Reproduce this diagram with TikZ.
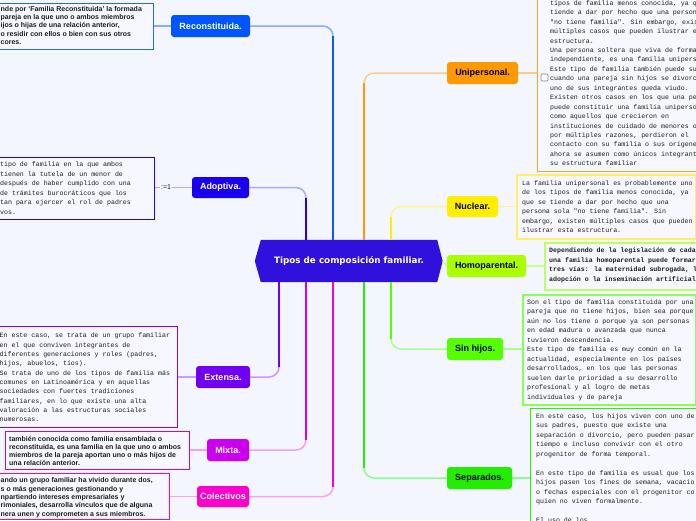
\documentclass[tikz,border=0pt]{standalone}
\usepackage{fontspec}
\setmainfont{Liberation Sans}
\newfontfamily\monof{Liberation Mono}
\newfontfamily\rootf{DejaVu Sans}
\usetikzlibrary{calc}
\pgfdeclarelayer{background}
\pgfsetlayers{background,main}
\definecolor{bg}{HTML}{F3F6FE}
\definecolor{notefill}{HTML}{F7F8FF}
\definecolor{textc}{HTML}{1E1E1E}
\definecolor{rootc}{HTML}{3010DD}
\definecolor{recS}{HTML}{1155FF}\definecolor{recL}{HTML}{88AAFF}\definecolor{recN}{HTML}{0055FF}\definecolor{recB}{HTML}{2266FF}
\definecolor{adoS}{HTML}{2200EE}\definecolor{adoL}{HTML}{AAAAFF}\definecolor{adoN}{HTML}{1A00F0}\definecolor{adoB}{HTML}{2200EE}
\definecolor{extS}{HTML}{7700EE}\definecolor{extL}{HTML}{CC99FF}\definecolor{extN}{HTML}{7000F0}\definecolor{extB}{HTML}{8800EE}
\definecolor{mixS}{HTML}{CC00EE}\definecolor{mixL}{HTML}{EEA0FF}\definecolor{mixN}{HTML}{CC00EE}\definecolor{mixB}{HTML}{CC00DD}
\definecolor{colS}{HTML}{FF00CC}\definecolor{colL}{HTML}{FFA0EE}\definecolor{colN}{HTML}{FF00CC}\definecolor{colB}{HTML}{FF00CC}
\definecolor{uniS}{HTML}{FF9900}\definecolor{uniL}{HTML}{FFCC88}\definecolor{uniN}{HTML}{FF9900}\definecolor{uniB}{HTML}{FFA020}
\definecolor{nucS}{HTML}{FFEE00}\definecolor{nucL}{HTML}{FFF48A}\definecolor{nucN}{HTML}{FFEE00}\definecolor{nucB}{HTML}{FFEE66}
\definecolor{homS}{HTML}{AAFF00}\definecolor{homL}{HTML}{CCFF88}\definecolor{homN}{HTML}{AAFF00}\definecolor{homB}{HTML}{BBFF66}
\definecolor{sinS}{HTML}{55FF00}\definecolor{sinL}{HTML}{AAFF88}\definecolor{sinN}{HTML}{55FF00}\definecolor{sinB}{HTML}{88FF55}
\definecolor{sepS}{HTML}{22EE00}\definecolor{sepL}{HTML}{88FF88}\definecolor{sepN}{HTML}{22EE00}\definecolor{sepB}{HTML}{33EE00}
\tikzset{
  branch/.style={rounded corners=3pt, inner sep=0pt, font=\fontsize{9}{10}\selectfont\bfseries},
  notebox/.style={draw, line width=1.1pt, fill=notefill, inner sep=0pt, anchor=north west},
  monotext/.style={font=\monof\fontsize{6.6}{9.5}\selectfont, align=left, inner sep=0pt, anchor=north west, text=textc},
  sanstext/.style={font=\fontsize{7}{8.3}\selectfont\bfseries, align=left, inner sep=0pt, anchor=north west, text=textc},
  lightline/.style={line width=1.5pt, rounded corners=10pt},
  satline/.style={line width=2.2pt, shorten >=10pt},
  noteline/.style={line width=1.1pt}
}
\begin{document}
\begin{tikzpicture}[x=1pt,y=-1pt]
\useasboundingbox (0,0) rectangle (696,520);
\begin{pgfonlayer}{background}
\fill[bg] (0,0) rectangle (696,520);
\end{pgfonlayer}

% root
\node[font=\rootf\fontsize{8.8}{10}\selectfont\bfseries, text=white, minimum width=176pt, minimum height=42pt, inner sep=0pt] (root) at (349,261) {Tipos de composición familiar.};

% branch nodes
\node[branch, fill=recN, text=white, minimum width=79pt, minimum height=22pt] (recon) at (210.5,26) {Reconstituida.};
\node[branch, fill=adoN, text=white, minimum width=57pt, minimum height=21pt] (adopt) at (220.5,187.5) {Adoptiva.};
\node[branch, fill=extN, text=white, minimum width=54pt, minimum height=22pt] (ext) at (223,377) {Extensa.};
\node[branch, fill=mixN, text=white, minimum width=42pt, minimum height=22pt] (mix) at (228,450) {Mixta.};
\node[branch, fill=colN, text=white, minimum width=52pt, minimum height=21pt] (col) at (223,496.5) {Colectivos};
\node[branch, fill=uniN, text=black, minimum width=71pt, minimum height=22pt] (uni) at (482.5,73) {Unipersonal.};
\node[branch, fill=nucN, text=black, minimum width=51pt, minimum height=21pt] (nuc) at (472.5,206.5) {Nuclear.};
\node[branch, fill=homN, text=black, minimum width=79pt, minimum height=22pt] (homo) at (486.5,266) {Homoparental.};
\node[branch, fill=sinN, text=black, minimum width=56pt, minimum height=22pt] (sin) at (475,349) {Sin hijos.};
\node[branch, fill=sepN, text=black, minimum width=65pt, minimum height=22pt] (sep) at (479.5,478) {Separados.};

% note boxes
\node[notebox, draw=recB, minimum width=158pt, minimum height=46pt] (recNote) at (-5,3) {};
\node[notebox, draw=adoB, minimum width=159pt, minimum height=62pt] (adoNote) at (-5,157) {};
\node[notebox, draw=extB, minimum width=182pt, minimum height=101pt] (extNote) at (-5,326) {};
\node[notebox, draw=mixB, minimum width=184pt, minimum height=38pt] (mixNote) at (5,431) {};
\node[notebox, draw=colB, minimum width=174pt, minimum height=46pt] (colNote) at (-5,473) {};
\node[notebox, draw=uniB, minimum width=170pt, minimum height=181pt] (uniNote) at (537,-10) {};
\node[notebox, draw=nucB, line width=1.5pt, minimum width=179pt, minimum height=64pt] (nucNote) at (516,174) {};
\node[notebox, draw=homB, line width=1.5pt, minimum width=165pt, minimum height=47pt] (homNote) at (544,242) {};
\node[notebox, draw=sinB, line width=1.5pt, minimum width=173pt, minimum height=110pt] (sinNote) at (522,294) {};
\node[notebox, draw=sepB, minimum width=175pt, minimum height=125pt] (sepNote) at (530,408) {};

% checkbox in the Unipersonal note
\draw[draw=gray, fill=white, line width=0.6pt, rounded corners=1pt] (541,74) rectangle (548,81);

% note texts
\node[sanstext] (recText) at (0.5,5.2) {\strut nde por ‘Familia Reconstituida’ la formada\\ pareja en la que uno o ambos miembros\\ijos o hijas de una relación anterior,\\o residir con ellos o bien con sus otros\\cores.};
\node[monotext] (adoText) at (0,159.85) {\strut tipo de familia en la que ambos\\ tienen la tutela de un menor de\\después de haber cumplido con una\\de trámites burocráticos que los\\tan para ejercer el rol de padres\\vos.};
\node[monotext, font=\monof\fontsize{6.6}{9.33}\selectfont] (extText) at (-0.5,331) {\strut En este caso, se trata de un grupo familiar\\en el que conviven integrantes de\\diferentes generaciones y roles (padres,\\hijos, abuelos, tíos).\\Se trata de uno de los tipos de familia más\\comunes en Latinoamérica y en aquellas\\sociedades con fuertes tradiciones\\familiares, en lo que existe una alta\\valoración a las estructuras sociales\\numerosas.};
\node[sanstext, font=\fontsize{7}{8}\selectfont\bfseries] (mixText) at (9,435.9) {\strut también conocida como familia ensamblada o\\reconstituida, es una familia en la que uno o ambos\\miembros de la pareja aportan uno o más hijos de\\una relación anterior.};
\node[sanstext, font=\fontsize{7}{8.4}\selectfont\bfseries] (colText) at (0.5,476.6) {\strut ando un grupo familiar ha vivido durante dos,\\s o más generaciones gestionando y\\npartiendo intereses empresariales y\\rimoniales, desarrolla vínculos que de alguna\\nera unen y comprometen a sus miembros.};
\node[monotext, font=\monof\fontsize{6.6}{9.45}\selectfont] (uniText) at (550,-1.6) {\strut tipos de familia menos conocida, ya q\\tiende a dar por hecho que una person\\"no tiene familia". Sin embargo, exis\\múltiples casos que pueden ilustrar e\\estructura.\\Una persona soltera que viva de forma\\independiente, es una familia unipers\\Este tipo de familia también puede su\\cuando una pareja sin hijos se divorc\\uno de sus integrantes queda viudo.\\Existen otros casos en los que una pe\\puede constituir una familia uniperso\\como aquellos que crecieron en\\instituciones de cuidado de menores o\\por múltiples razones, perdieron el\\contacto con su familia o sus orígene\\ahora se asumen como únicos integrant\\su estructura familiar};
\node[monotext] (nucText) at (522,178.35) {\strut La familia unipersonal es probablemente uno\\de los tipos de familia menos conocida, ya\\que se tiende a dar por hecho que una\\persona sola "no tiene familia". Sin\\embargo, existen múltiples casos que pueden\\ilustrar esta estructura.};
\node[monotext, font=\monof\fontsize{6.6}{9.6}\selectfont\bfseries] (homText) at (549,245.8) {\strut Dependiendo de la legislación de cada\\una familia homoparental puede formar\\tres vías: la maternidad subrogada, l\\adopción o la inseminación artificial};
\node[monotext] (sinText) at (527,297.35) {\strut Son el tipo de familia constituida por una\\pareja que no tiene hijos, bien sea porque\\aún no los tiene o porque ya son personas\\en edad madura o avanzada que nunca\\tuvieron descendencia.\\Este tipo de familia es muy común en la\\actualidad, especialmente en los países\\desarrollados, en los que las personas\\suelen darle prioridad a su desarrollo\\profesional y al logro de metas\\individuales y de pareja};
\node[monotext] (sepText) at (536,411.35) {\strut En este caso, los hijos viven con uno de\\sus padres, puesto que existe una\\separación o divorcio, pero pueden pasar\\tiempo e incluso convivir con el otro\\progenitor de forma temporal.\\~\\En este tipo de familia es usual que los\\hijos pasen los fines de semana, vacacio\\o fechas especiales con el progenitor co\\quien no viven formalmente.\\~\\El uso de los};

% attachment points on the root
\coordinate (tAdo) at ([xshift=-43pt]root.north);
\coordinate (tRec) at ([xshift=-16pt]root.north);
\coordinate (tUni) at ([xshift=15pt]root.north);
\coordinate (tNuc) at ([xshift=42pt]root.north);
\coordinate (bExt) at ([xshift=-70pt]root.south);
\coordinate (bMix) at ([xshift=-43pt]root.south);
\coordinate (bCol) at ([xshift=-16pt]root.south);
\coordinate (bSep) at ([xshift=15pt]root.south);
\coordinate (bSin) at ([xshift=42pt]root.south);

\begin{pgfonlayer}{background}
\fill[rootc] (root.north west) -- (root.north east) -- ([xshift=5.5pt]root.east) -- (root.south east) -- (root.south west) -- ([xshift=-6pt]root.west) -- cycle;
% branch connectors
\draw[lightline, recL] (recon.east) -| (tRec);
\draw[satline, recS] (tRec) -- (tRec |- recon.east);
\draw[lightline, adoL] (adopt.east) -| (tAdo);
\draw[satline, adoS] (tAdo) -- (tAdo |- adopt.east);
\draw[lightline, uniL] (uni.west) -| (tUni);
\draw[satline, uniS] (tUni) -- (tUni |- uni.west);
\draw[lightline, nucL] (nuc.west) -| (tNuc);
\draw[satline, nucS] (tNuc) -- (tNuc |- nuc.west);
\draw[lightline, extL] (ext.east) -| (bExt);
\draw[satline, extS] (bExt) -- (bExt |- ext.east);
\draw[lightline, mixL] (mix.east) -| (bMix);
\draw[satline, mixS] (bMix) -- (bMix |- mix.east);
\draw[lightline, colL] (col.east) -| (bCol);
\draw[satline, colS] (bCol) -- (bCol |- col.east);
\draw[lightline, sepL] (sep.west) -| (bSep);
\draw[satline, sepS] (bSep) -- (bSep |- sep.west);
\draw[lightline, sinL] (sin.west) -| (bSin);
\draw[satline, sinS] (bSin) -- (bSin |- sin.west);
\draw[line width=1.5pt, homL] ([xshift=5.5pt]root.east) -- (homo.west);
% note connectors
\draw[noteline, recL] (recon.west) -- (recon.west -| recNote.east);
\draw[noteline, adoL] (adopt.west) -- node[pos=0.7, fill=bg, inner sep=1pt, font=\fontsize{7}{8}\selectfont, text=textc] (eqlbl) {:=1} (adopt.west -| adoNote.east);
\draw[noteline, extL] (ext.west) -- (ext.west -| extNote.east);
\draw[noteline, mixL] (mix.west) -- (mix.west -| mixNote.east);
\draw[noteline, colL] (col.west) -- (col.west -| colNote.east);
\draw[noteline, uniL] (uni.east) -- (uni.east -| uniNote.west);
\draw[noteline, nucL] (nuc.east) -- (nuc.east -| nucNote.west);
\draw[noteline, homL] (homo.east) -- (homo.east -| homNote.west);
\draw[noteline, sinL] (sin.east) -- (sin.east -| sinNote.west);
\draw[noteline, sepL] (sep.east) -- (sep.east -| sepNote.west);
\end{pgfonlayer}
\end{tikzpicture}
\end{document}
